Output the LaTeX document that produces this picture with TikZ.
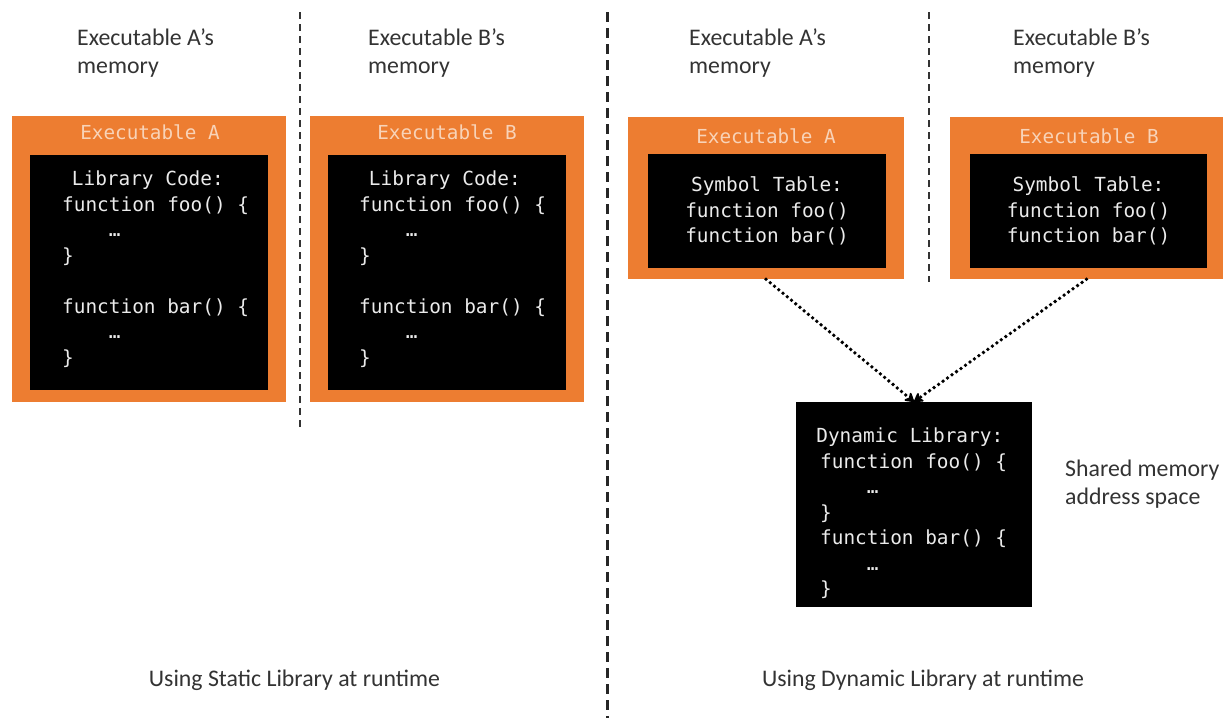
\documentclass[tikz,border=0pt]{standalone}
\usepackage{fontspec}
\setmainfont{Carlito}
\setmonofont{DejaVu Sans Mono}
\usetikzlibrary{arrows.meta}
\definecolor{exorange}{HTML}{ED7D31}
\definecolor{peach}{HTML}{F8D3B8}
\definecolor{codegray}{HTML}{EBEBEB}
\definecolor{labelgray}{HTML}{333333}
\newcommand\codeind{\hspace*{2.408em}}
\tikzset{
  exbox/.style={draw=none, fill=exorange, minimum width=#1, inner sep=0pt},
  blackbox/.style={fill=black, draw=none, inner sep=0pt},
  titletext/.style={text=peach, font=\ttfamily\fontsize{19.3}{22}\selectfont, inner sep=0pt},
  codetext/.style={text=codegray, font=\ttfamily\fontsize{19.4}{25.5}\selectfont, inner sep=0pt},
  lbl/.style={text=labelgray, font=\fontsize{23.8}{28}\selectfont, inner sep=0pt, align=left},
  sep/.style={draw=black!80, line width=1.4pt, dash pattern=on 7pt off 5pt},
  bigsep/.style={draw=black!85, line width=3pt, dash pattern=on 10pt off 6pt},
  link/.style={draw=black, line width=3.8pt, line cap=round, dash pattern=on 0pt off 5.5pt, -{Stealth[length=11pt,width=13pt,round]}}
}
\begin{document}
\begin{tikzpicture}[x=1pt,y=-1pt]
\useasboundingbox[fill=white] (0,0) rectangle (1223,718);

% separators
\draw[sep] (300,12) -- (300,430);
\draw[bigsep] (607,12) -- (607,718);
\draw[sep] (929,12) -- (929,282);

% memory labels
\node[lbl, anchor=west] (lA1) at (77,53) {Executable A’s\\memory};
\node[lbl, anchor=west] (lB1) at (368,53) {Executable B’s\\memory};
\node[lbl, anchor=west] (lA2) at (689,53) {Executable A’s\\memory};
\node[lbl, anchor=west] (lB2) at (1013,53) {Executable B’s\\memory};

% ---------- static side ----------
\node[exbox=274pt, minimum height=286pt] (sA) at (149,259) {};
\node[titletext] (sAt) at (150,132) {Executable A};
\node[blackbox, minimum width=238pt, minimum height=235pt] (sAc) at (149,272.5) {};
\node[codetext, anchor=north west, align=left] (sAtext) at (62,171) {\hspace*{.5em}Library Code:\\function foo() \{\\\codeind…\\\}\\[25.5pt]function bar() \{\\\codeind…\\\}};

\node[exbox=274pt, minimum height=286pt] (sB) at (447,259) {};
\node[titletext] (sBt) at (447,132) {Executable B};
\node[blackbox, minimum width=238pt, minimum height=235pt] (sBc) at (447,272.5) {};
\node[codetext, anchor=north west, align=left] (sBtext) at (359,171) {\hspace*{.5em}Library Code:\\function foo() \{\\\codeind…\\\}\\[25.5pt]function bar() \{\\\codeind…\\\}};

% ---------- dynamic side ----------
\node[exbox=276pt, minimum height=162pt] (dA) at (766,198) {};
\node[titletext] (dAt) at (766,136) {Executable A};
\node[blackbox, minimum width=238pt, minimum height=114pt, codetext, align=center] (dAc) at (767,211) {Symbol Table:\\function foo()\\function bar()};

\node[exbox=273pt, minimum height=162pt] (dB) at (1086.5,198) {};
\node[titletext] (dBt) at (1089,136) {Executable B};
\node[blackbox, minimum width=237pt, minimum height=114pt, codetext, align=center] (dBc) at (1088.5,211) {Symbol Table:\\function foo()\\function bar()};

\node[blackbox, minimum width=236pt, minimum height=205pt] (dyn) at (914,504.5) {};
\node[codetext, anchor=north west, align=left] (dyntext) at (820,428) {\hspace*{-.2em}Dynamic Library:\\function foo() \{\\\codeind…\\\}\\function bar() \{\\\codeind…\\\}};

\draw[link] (dA.south) -- (dyn.north);
\draw[link] (dB.south) -- (dyn.north);

\node[lbl, anchor=west] (shared) at (1065,484) {Shared memory\\address space};

% captions
\node[lbl, anchor=center] (capS) at (294.5,680) {Using Static Library at runtime};
\node[lbl, anchor=center] (capD) at (923,680) {Using Dynamic Library at runtime};
\end{tikzpicture}
\end{document}
